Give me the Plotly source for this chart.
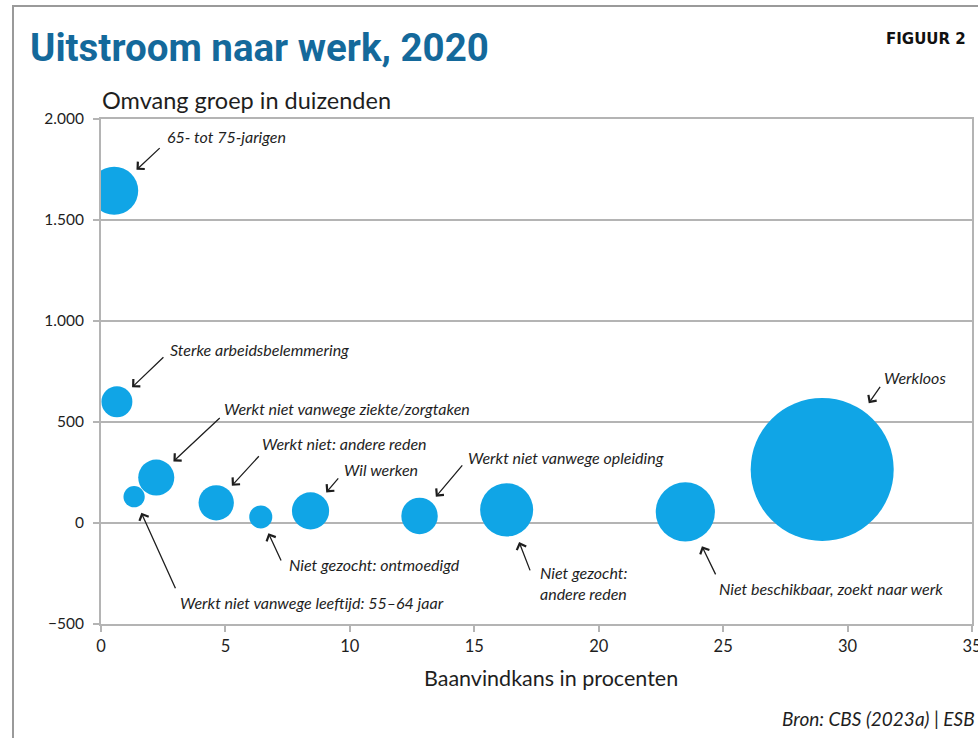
import plotly.graph_objects as go

W, H = 978, 738
ML, MR, MT, MB = 101, 6, 119, 114
PW = W - ML - MR
PH = H - MT - MB

# data
groepen = [
    "65- tot 75-jarigen",
    "Sterke arbeidsbelemmering",
    "Werkt niet vanwege leeftijd: 55–64 jaar",
    "Werkt niet vanwege ziekte/zorgtaken",
    "Werkt niet: andere reden",
    "Niet gezocht: ontmoedigd",
    "Wil werken",
    "Werkt niet vanwege opleiding",
    "Niet gezocht:<br>andere reden",
    "Niet beschikbaar, zoekt naar werk",
    "Werkloos",
]
baanvindkans = [0.53, 0.64, 1.33, 2.22, 4.63, 6.42, 8.42, 12.8, 16.3, 23.48, 28.98]
omvang = [1645, 600, 130, 225, 100, 30, 60, 35, 65, 55, 265]
uitstroom = [8.7, 3.6, 1.7, 4.9, 4.7, 2.0, 5.2, 5.0, 10.6, 13.2, 77.0]

y_ticks = [-500, 0, 500, 1000, 1500, 2000]
x_ticks = [0, 5, 10, 15, 20, 25, 30, 35]

BLUE = "#10a5e6"
INK = "#1e1e1e"
GRID = "#b4b4b4"
MAX_DIAM = 143
sizeref = 2.0 * max(uitstroom) / MAX_DIAM ** 2

# label placement: arrow tail offset, text offset (px from bubble centre), gap to bubble
label_pos = [
    ((47, -44), (51, -54), 6.5),
    ((48, -46), (51, -52), 5.5),
    ((42, 93), (44, 106), 7),
    ((65, -61), (66, -69), 5.5),
    ((44, -48), (44, -59), 5.5),
    ((21, 45), (26, 48), 6.5),
    ((29, -34), (31, -41), 5.6),
    ((44, -52), (46, -58), 7),
    ((24, 62), (31, 73), 8),
    ((31, 64), (32, 77), 8.5),
    ((59, -84), (60, -92), 9.5),
]


def paper(x, y):
    # window pixels -> paper coordinates
    return (x - ML) / PW, (H - MB - y) / PH


fig = go.Figure()
fig.add_trace(go.Scatter(
    x=baanvindkans, y=omvang, mode="markers",
    marker=dict(size=uitstroom, sizemode="area", sizeref=sizeref,
                color=BLUE, line=dict(width=0), opacity=1),
    text=groepen, hoverinfo="text+x+y", showlegend=False,
))

label_font = dict(family="Lato, Noto Sans, sans-serif", size=16, color=INK)
for i, naam in enumerate(groepen):
    (tx, ty), (lx, ly), gap = label_pos[i]
    radius = (uitstroom[i] / 2.0 / sizeref) ** 0.5
    fig.add_annotation(
        x=baanvindkans[i], y=omvang[i], text="", showarrow=True,
        ax=tx, ay=ty, standoff=radius + gap,
        arrowhead=4, arrowsize=1.5, arrowwidth=1.3, arrowcolor=INK,
    )
    fig.add_annotation(
        x=baanvindkans[i], y=omvang[i], text="<i>" + naam + "</i>",
        showarrow=False, xanchor="left", yanchor="middle", align="left",
        xshift=lx, yshift=-ly, font=label_font,
    )

# titles and texts
tx, ty = paper(28, 47)
fig.add_annotation(x=tx, y=ty, xref="paper", yref="paper", showarrow=False,
                   xanchor="left", yanchor="middle",
                   text="<b>Uitstroom naar werk, 2020</b>",
                   font=dict(family="Roboto, sans-serif", size=38.5, color="#14699b"))
tx, ty = paper(884, 39)
fig.add_annotation(x=tx, y=ty, xref="paper", yref="paper", showarrow=False,
                   xanchor="left", yanchor="middle", text="<b>FIGUUR 2</b>",
                   font=dict(family="DejaVu Sans, sans-serif", size=15, color="#111"))
tx, ty = paper(100, 100)
fig.add_annotation(x=tx, y=ty, xref="paper", yref="paper", showarrow=False,
                   xanchor="left", yanchor="middle", text="Omvang groep in duizenden",
                   font=dict(family="Lato, sans-serif", size=23.5, color=INK))
tx, ty = paper(551, 678)
fig.add_annotation(x=tx, y=ty, xref="paper", yref="paper", showarrow=False,
                   xanchor="center", yanchor="middle", text="Baanvindkans in procenten",
                   font=dict(family="Lato, sans-serif", size=21.5, color=INK))
tx, ty = paper(977, 718)
fig.add_annotation(x=tx, y=ty, xref="paper", yref="paper", showarrow=False,
                   xanchor="right", yanchor="middle", text="<i>Bron: CBS (2023a) | ESB</i>",
                   font=dict(family="Lato, sans-serif", size=19, color=INK))

# outer frame
x0, y0 = paper(13, 6)
x1, y1 = paper(990, 760)
fig.add_shape(type="rect", xref="paper", yref="paper", x0=x0, y0=y1, x1=x1, y1=y0,
              line=dict(color="#9a9a9a", width=2), layer="below")

fig.update_xaxes(
    range=[0, 35], tickvals=x_ticks, showgrid=False, zeroline=False,
    showline=True, linecolor=GRID, linewidth=2, mirror=True,
    ticks="outside", ticklen=6, tickcolor=GRID, tickwidth=1.5,
    ticklabeloverflow="allow", automargin=False,
    tickfont=dict(family="Lato, sans-serif", size=16.5, color=INK),
)
fig.update_yaxes(
    range=[-500, 2000], tickvals=y_ticks, tickformat=",d",
    showgrid=True, gridcolor=GRID, gridwidth=1.5, zeroline=False,
    showline=True, linecolor=GRID, linewidth=2, mirror=True,
    ticks="outside", ticklen=6, tickcolor=GRID, tickwidth=1.5, ticklabelstandoff=6,
    automargin=False,
    tickfont=dict(family="Lato, sans-serif", size=15.5, color=INK),
)
fig.update_layout(
    width=W, height=H, separators=",.",
    margin=dict(l=ML, r=MR, t=MT, b=MB, pad=0, autoexpand=False),
    plot_bgcolor="white", paper_bgcolor="white",
    showlegend=False,
)

# drop the default page margin so the figure sits at the window's top-left corner
fig.write_html(
    "out.html",
    config={"displayModeBar": False},
    post_script="document.body.style.margin='0';"
                "document.documentElement.style.overflow='hidden';",
)
